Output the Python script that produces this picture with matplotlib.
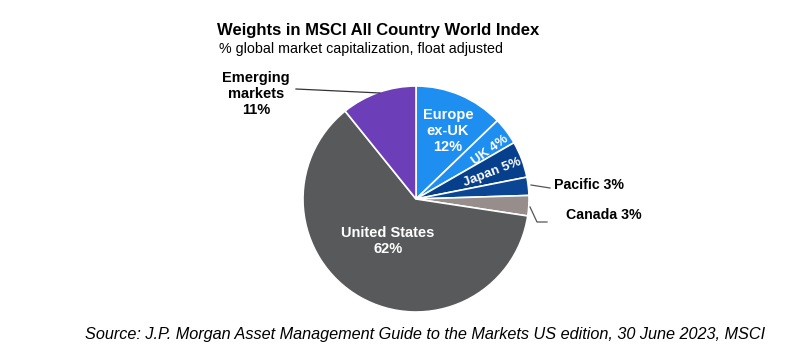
import matplotlib.pyplot as plt

regiones = ["Europe ex-UK", "UK", "Japan", "Pacific", "Canada", "United States", "Emerging markets"]
pesos = [12.8, 3.9, 5.2, 2.6, 2.9, 61.8, 10.8]
colores = ["#1e8ff0", "#1e8ff0", "#063f8c", "#0a4694", "#978d8b", "#58595b", "#6c3fb8"]

titulo = "Weights in MSCI All Country World Index"
subtitulo = "% global market capitalization, float adjusted"
fuente = "Source: J.P. Morgan Asset Management Guide to the Markets US edition, 30 June 2023, MSCI"

W, H = 792, 353
cx, cy, r = 416, 199, 113

fig = plt.figure(figsize=(W / 100, H / 100), dpi=100)
ax = fig.add_axes([(cx - r) / W, (H - cy - r) / H, 2 * r / W, 2 * r / H])

ax.pie(pesos, colors=colores, startangle=90, counterclock=False, radius=1,
       wedgeprops=dict(edgecolor="white", linewidth=1.2))
ax.set_xlim(-1, 1)
ax.set_ylim(-1, 1)
ax.set_aspect("equal")
ax.axis("off")


def d(px, py):
    # pixel de la imagen -> coordenadas del pie
    return ((px - cx) / r, (cy - py) / r)


negrita = dict(fontweight="bold", family="Liberation Sans")

# etiquetas dentro del pie
ax.text(*d(448, 131), "Europe\nex-UK\n12%", color="white", ha="center", va="center",
        fontsize=10.5, linespacing=1.15, **negrita)
ax.text(*d(490, 150), "UK 4%", color="white", ha="center", va="center",
        fontsize=9.5, rotation=36, **negrita)
ax.text(*d(492, 172), "Japan 5%", color="white", ha="center", va="center",
        fontsize=9.5, rotation=21, **negrita)
ax.text(*d(388, 241), "United States\n62%", color="white", ha="center", va="center",
        fontsize=10.5, linespacing=1.2, **negrita)

# etiquetas de afuera con lineas guia
ax.text(*d(256, 94), "Emerging\nmarkets\n11%", color="black", ha="center", va="center",
        fontsize=10.5, linespacing=1.15, **negrita)
x0, y0 = d(296, 89)
x1, y1 = d(380, 93)
ax.plot([x0, x1], [y0, y1], color="#333333", lw=0.9, clip_on=False)

ax.text(*d(554, 185), "Pacific 3%", color="black", ha="left", va="center", fontsize=10.2, **negrita)
p = [d(531, 185), d(550, 188)]
ax.plot([q[0] for q in p], [q[1] for q in p], color="#555555", lw=0.9, clip_on=False)

ax.text(*d(566, 215), "Canada 3%", color="black", ha="left", va="center", fontsize=10.2, **negrita)
p = [d(530, 207), d(537, 222), d(547, 222)]
ax.plot([q[0] for q in p], [q[1] for q in p], color="#555555", lw=0.9, clip_on=False)

# titulos
fig.text(217 / W, 1 - 30 / H, titulo, ha="left", va="center", fontsize=12, **negrita)
fig.text(219 / W, 1 - 49 / H, subtitulo, ha="left", va="center", fontsize=10.3,
         family="Liberation Sans")
fig.text(425 / W, 1 - 335 / H, fuente, ha="center", va="center", fontsize=11.7,
         style="italic", family="Liberation Sans")

fig.savefig("out.png", dpi=100)
